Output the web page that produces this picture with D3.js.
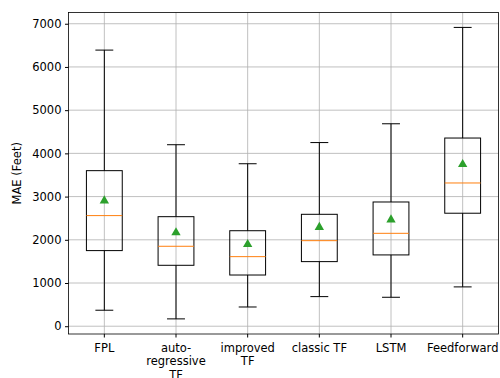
<!DOCTYPE html>
<html>
<head>
<meta charset="utf-8">
<script src="https://cdn.jsdelivr.net/npm/d3@7"></script>
<style>
body { margin: 0; background: #fff; }
svg text { font-family: "DejaVu Sans", sans-serif; }
</style>
</head>
<body>
<div id="chart"></div>
<script>
const categories = ["FPL", "auto-\nregressive\nTF", "improved\nTF", "classic TF", "LSTM", "Feedforward"];
const whiskerLow = [370, 170, 445, 685, 670, 910];
const q1 = [1750, 1410, 1185, 1495, 1650, 2615];
const median = [2560, 1850, 1610, 1980, 2150, 3315];
const q3 = [3600, 2535, 2210, 2590, 2875, 4355];
const whiskerHigh = [6390, 4200, 3760, 4250, 4685, 6915];
const means = [2905, 2165, 1895, 2290, 2465, 3745];
const yTicks = [0, 1000, 2000, 3000, 4000, 5000, 6000, 7000];

const w = 500, h = 378;
const margin = { t: 12.5, r: 1.5, b: 44, l: 68.5 };
const fs = 11.5;

const svg = d3.select("#chart").append("svg")
	.attr("width", w)
	.attr("height", h);

const data = categories.map((c, i) => ({
	cat: c, lo: whiskerLow[i], q1: q1[i], med: median[i], q3: q3[i], hi: whiskerHigh[i], mean: means[i]
}));

const xScale = d3.scaleBand()
	.domain(categories)
	.range([margin.l, w - margin.r]);

const yScale = d3.scaleLinear()
	.domain([-180, 7260])
	.range([h - margin.b, margin.t]);

const cx = (d) => xScale(d.cat) + xScale.bandwidth() / 2;
const boxW = xScale.bandwidth() * 0.5;
const capW = boxW / 2;

// grid
const grid = svg.append("g");
grid.selectAll(".gy").data(yTicks).join("line")
	.attr("x1", margin.l).attr("x2", w - margin.r)
	.attr("y1", (d) => yScale(d)).attr("y2", (d) => yScale(d))
	.attr("stroke", "#b0b0b0").attr("stroke-width", 0.8);
grid.selectAll(".gx").data(data).join("line")
	.attr("x1", cx).attr("x2", cx)
	.attr("y1", margin.t).attr("y2", h - margin.b)
	.attr("stroke", "#b0b0b0").attr("stroke-width", 0.8);

// axes
const xAxis = d3.axisBottom(xScale).tickSize(3.5).tickFormat("");
const xAxisG = svg.append("g")
	.attr("transform", `translate(0, ${h - margin.b})`)
	.call(xAxis);
xAxisG.select(".domain").remove();

xAxisG.selectAll(".tick").each(function (d) {
	const t = d3.select(this).append("text")
		.attr("fill", "#000")
		.attr("font-family", "DejaVu Sans")
		.attr("font-size", fs)
		.attr("text-anchor", "middle");
	d.split("\n").forEach((line, i) => {
		t.append("tspan").attr("x", 0).attr("y", 18 + i * 13.3).text(line);
	});
});

const yAxis = d3.axisLeft(yScale).tickValues(yTicks).tickFormat(d3.format("d")).tickSize(3.5).tickPadding(3.5);
const yAxisG = svg.append("g")
	.attr("transform", `translate(${margin.l}, 0)`)
	.call(yAxis);
yAxisG.select(".domain").remove();
yAxisG.selectAll("text").attr("font-size", fs).attr("fill", "#000").attr("font-family", "DejaVu Sans");

svg.append("text")
	.attr("transform", `translate(21, ${(margin.t + h - margin.b) / 2}) rotate(-90)`)
	.attr("text-anchor", "middle")
	.attr("font-family", "DejaVu Sans")
	.attr("font-size", fs)
	.text("MAE (Feet)");

// boxes
const boxes = svg.append("g").selectAll("g").data(data).join("g");

boxes.append("line")
	.attr("x1", cx).attr("x2", cx)
	.attr("y1", (d) => yScale(d.hi)).attr("y2", (d) => yScale(d.q3))
	.attr("stroke", "#000").attr("stroke-width", 1);
boxes.append("line")
	.attr("x1", cx).attr("x2", cx)
	.attr("y1", (d) => yScale(d.q1)).attr("y2", (d) => yScale(d.lo))
	.attr("stroke", "#000").attr("stroke-width", 1);
boxes.append("line")
	.attr("x1", (d) => cx(d) - capW / 2).attr("x2", (d) => cx(d) + capW / 2)
	.attr("y1", (d) => yScale(d.hi)).attr("y2", (d) => yScale(d.hi))
	.attr("stroke", "#000").attr("stroke-width", 1);
boxes.append("line")
	.attr("x1", (d) => cx(d) - capW / 2).attr("x2", (d) => cx(d) + capW / 2)
	.attr("y1", (d) => yScale(d.lo)).attr("y2", (d) => yScale(d.lo))
	.attr("stroke", "#000").attr("stroke-width", 1);
boxes.append("rect")
	.attr("x", (d) => cx(d) - boxW / 2)
	.attr("width", boxW)
	.attr("y", (d) => yScale(d.q3))
	.attr("height", (d) => yScale(d.q1) - yScale(d.q3))
	.attr("fill", "none").attr("stroke", "#000").attr("stroke-width", 1);
boxes.append("line")
	.attr("x1", (d) => cx(d) - boxW / 2).attr("x2", (d) => cx(d) + boxW / 2)
	.attr("y1", (d) => yScale(d.med)).attr("y2", (d) => yScale(d.med))
	.attr("stroke", "#ff7f0e").attr("stroke-width", 1);
boxes.append("path")
	.attr("d", d3.symbol(d3.symbolTriangle, 38)())
	.attr("transform", (d) => `translate(${cx(d)}, ${yScale(d.mean)})`)
	.attr("fill", "#2ca02c");

// frame
svg.append("rect")
	.attr("x", margin.l).attr("y", margin.t)
	.attr("width", w - margin.r - margin.l)
	.attr("height", h - margin.b - margin.t)
	.attr("fill", "none").attr("stroke", "#000").attr("stroke-width", 0.8);
</script>
</body>
</html>
